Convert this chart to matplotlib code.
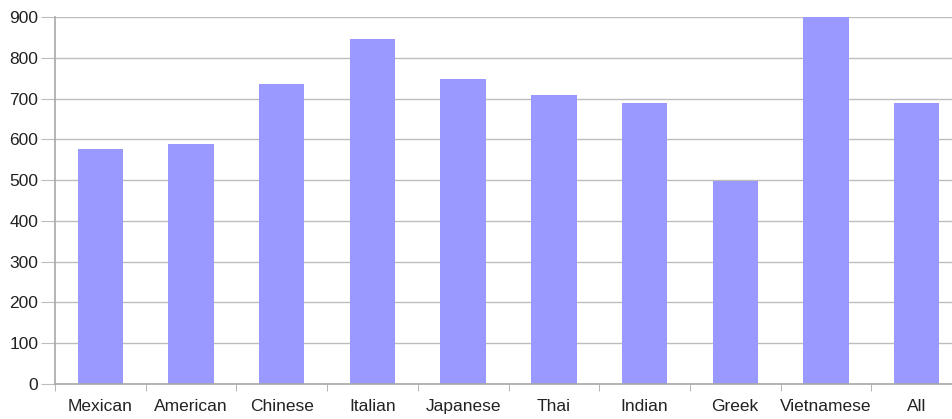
import numpy as np
import matplotlib.pyplot as plt

plt.rcParams['font.family'] = ['Liberation Sans', 'DejaVu Sans']

categories = ['Mexican', 'American', 'Chinese', 'Italian', 'Japanese',
              'Thai', 'Indian', 'Greek', 'Vietnamese', 'All']
values = [576, 589, 736, 846, 748, 709, 689, 498, 900, 688]

fig = plt.figure(figsize=(9.52, 4.19), dpi=100)
ax = fig.add_axes([55 / 952, 35 / 419, 1 - 55 / 952, 367 / 419])

x = np.arange(len(categories))
ax.bar(x, values, width=0.5, color='#9999ff', zorder=2)

ax.set_ylim(0, 900)
ax.set_xlim(-0.5, 9.5 - 10 / 90.7)
ax.set_yticks(range(0, 901, 100))
ax.set_xticks(x)
ax.set_xticklabels(categories)
ax.set_xticks(np.arange(-0.5, 9.5, 1), minor=True)

ax.grid(axis='y', color='#bdbdbd', linewidth=1, zorder=0)
for s in ['top', 'right']:
    ax.spines[s].set_visible(False)
for s in ['left', 'bottom']:
    ax.spines[s].set_color('#a8a8a8')
    ax.spines[s].set_linewidth(1.2)

ax.tick_params(axis='y', length=10, color='#bdbdbd', labelsize=12.5,
               labelcolor='#222222', pad=2)
ax.tick_params(axis='x', which='major', length=0, labelsize=12.5,
               labelcolor='#222222', pad=11)
ax.tick_params(axis='x', which='minor', length=5, color='#a8a8a8')

fig.savefig('out.png', dpi=100)
